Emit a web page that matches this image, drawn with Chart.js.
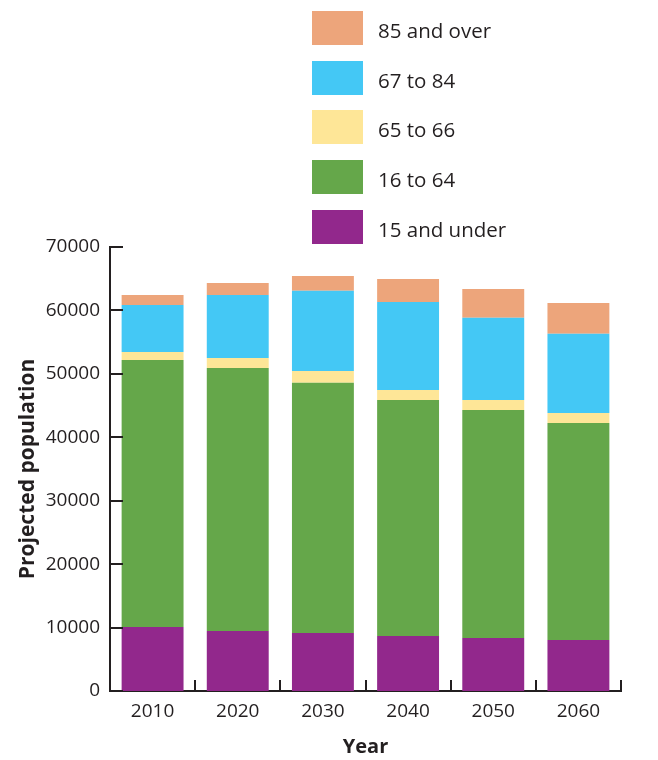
<!DOCTYPE html>
<html>
<head>
<meta charset="utf-8">
<script src="https://cdn.jsdelivr.net/npm/chart.js@4/dist/chart.umd.min.js"></script>
<style>
  html, body { margin: 0; padding: 0; background: #fff; }
  #wrap { position: relative; width: 658px; height: 760px; }
  #popChart { position: absolute; left: 0; top: 0; }
  #legend { position: absolute; left: 312px; top: 11px; margin: 0; padding: 0; list-style: none; }
  #legend li { display: flex; align-items: center; height: 34px; margin-bottom: 15.7px; }
  #legend .swatch { width: 51px; height: 34px; margin-right: 15px; }
  #legend .txt { font-family: 'Open Sans', sans-serif; font-size: 20.5px; color: #231f20; position: relative; top: 2px; }
</style>
</head>
<body>
<div id="wrap">
  <canvas id="popChart" width="658" height="760"></canvas>
  <ul id="legend"></ul>
</div>
<script>
const years = ['2010', '2020', '2030', '2040', '2050', '2060'];
const under15 = [10100, 9460, 9140, 8670, 8360, 8040];
const age16to64 = [42100, 41460, 39460, 37210, 35940, 34210];
const age65to66 = [1250, 1580, 1850, 1570, 1580, 1580];
const age67to84 = [7420, 9930, 12650, 13880, 12980, 12500];
const age85plus = [1580, 1900, 2330, 3630, 4520, 4840];
const yTicks = [0, 10000, 20000, 30000, 40000, 50000, 60000, 70000];

const inkColor = '#231f20';

// tick marks point into the plot area, so draw them by hand
const innerTicks = {
    id: 'innerTicks',
    afterDraw(chart) {
        const ctx = chart.ctx;
        const x = chart.scales.x;
        const y = chart.scales.y;
        const area = chart.chartArea;
        ctx.save();
        ctx.strokeStyle = inkColor;
        ctx.lineWidth = 2;
        ctx.beginPath();
        yTicks.forEach(v => {
            const py = Math.round(y.getPixelForValue(v));
            ctx.moveTo(area.left, py);
            ctx.lineTo(area.left + 13, py);
        });
        const step = x.getPixelForValue(1) - x.getPixelForValue(0);
        years.forEach((yr, i) => {
            const px = Math.round(x.getPixelForValue(i) + step / 2);
            ctx.moveTo(px, area.bottom);
            ctx.lineTo(px, area.bottom - 11);
        });
        ctx.stroke();
        ctx.restore();
    }
};

const ctx = document.getElementById('popChart').getContext('2d');
const popChart = new Chart(ctx, {
    type: 'bar',
    data: {
        labels: years,
        datasets: [
            { label: '15 and under', data: under15, backgroundColor: '#92288C' },
            { label: '16 to 64', data: age16to64, backgroundColor: '#65A74A' },
            { label: '65 to 66', data: age65to66, backgroundColor: '#FEE697' },
            { label: '67 to 84', data: age67to84, backgroundColor: '#44C8F5' },
            { label: '85 and over', data: age85plus, backgroundColor: '#EDA57B' }
        ]
    },
    options: {
        responsive: false,
        animation: false,
        layout: {
            padding: { top: 247, right: 37, bottom: 0, left: 0 }
        },
        datasets: {
            bar: {
                categoryPercentage: 1,
                barPercentage: 0.727,
                borderWidth: 0
            }
        },
        plugins: {
            legend: { display: false },
            tooltip: { enabled: false }
        },
        scales: {
            x: {
                stacked: true,
                afterFit: s => { s.height = 69; },
                grid: { display: false, drawTicks: false },
                border: { display: true, color: inkColor, width: 2 },
                ticks: {
                    padding: 9,
                    color: inkColor,
                    font: { family: 'Open Sans', size: 19 }
                },
                title: {
                    display: true,
                    text: 'Year',
                    color: inkColor,
                    padding: { top: 0, bottom: 1 },
                    font: { family: 'Open Sans', size: 20, weight: 'bold' }
                }
            },
            y: {
                stacked: true,
                min: 0,
                max: 70000,
                afterFit: s => { s.width = 110; },
                grid: { display: false, drawTicks: false },
                border: { display: true, color: inkColor, width: 2 },
                afterBuildTicks: s => { s.ticks = yTicks.map(v => ({ value: v })); },
                ticks: {
                    padding: 10,
                    color: inkColor,
                    font: { family: 'Open Sans', size: 19 },
                    callback: v => String(v)
                },
                title: {
                    display: true,
                    text: 'Projected population',
                    color: inkColor,
                    padding: { top: 15, bottom: 0 },
                    font: { family: 'Open Sans', size: 21, weight: 'bold' }
                }
            }
        }
    },
    plugins: [innerTicks]
});

// legend: top of the stack first
const legendEl = document.getElementById('legend');
popChart.data.datasets.slice().reverse().forEach(ds => {
    const li = document.createElement('li');
    li.innerHTML = '<span class="swatch" style="background:' + ds.backgroundColor + '"></span>' +
        '<span class="txt">' + ds.label + '</span>';
    legendEl.appendChild(li);
});
</script>
</body>
</html>
